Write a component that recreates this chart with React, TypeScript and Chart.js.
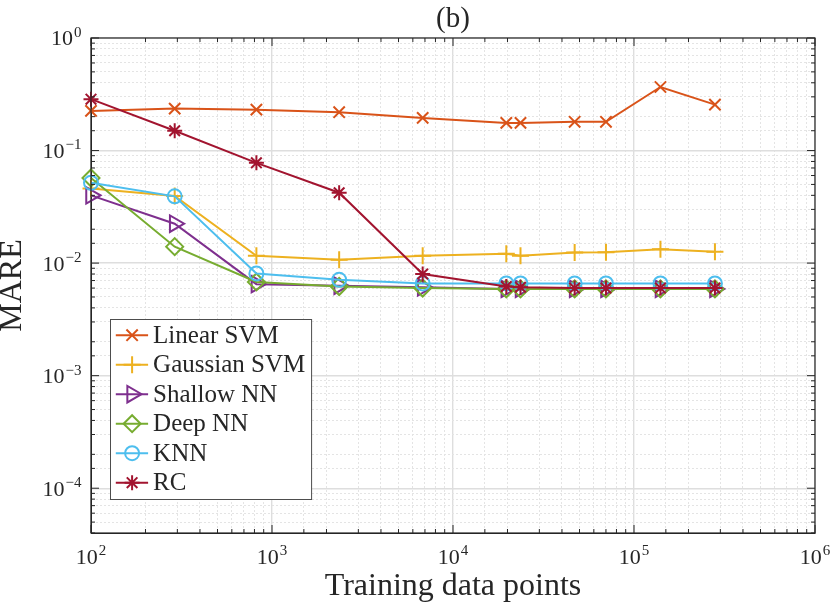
import { useEffect, useRef } from "react";
import { Chart, registerables, type ChartConfiguration, type Plugin } from "chart.js";
import { drawPoint } from "chart.js/helpers";

Chart.register(...registerables);

// shared x values (training data points)
const trainingPoints = [100, 290, 820, 2350, 6800, 19700, 23600, 47000, 70000, 140000, 280000];

const linearSvm = [0.225, 0.236, 0.231, 0.219, 0.195, 0.176, 0.176, 0.18, 0.18, 0.367, 0.256];
const gaussianSvm = [0.046, 0.0395, 0.0116, 0.0107, 0.0116, 0.0121, 0.0116, 0.0124, 0.0125, 0.0133, 0.0126];
const shallowNn = [0.04, 0.0224, 0.0065, 0.0063, 0.0061, 0.0059, 0.0059, 0.0059, 0.0059, 0.0059, 0.0059];
const deepNn = [0.057, 0.014, 0.0068, 0.0062, 0.006, 0.0059, 0.0059, 0.0059, 0.0059, 0.0059, 0.0059];
const knn = [0.0517, 0.0392, 0.0081, 0.0071, 0.0066, 0.0066, 0.0066, 0.0066, 0.0066, 0.0066, 0.0066];
const rc = [0.286, 0.15, 0.0778, 0.0422, 0.008, 0.0062, 0.0061, 0.006, 0.006, 0.006, 0.006];

const seriesLabels = ["Linear SVM", "Gaussian SVM", "Shallow NN", "Deep NN", "KNN", "RC"];
const seriesValues = [linearSvm, gaussianSvm, shallowNn, deepNn, knn, rc];

const xTickExponents = [2, 3, 4, 5, 6];
const yTickExponents = [-4, -3, -2, -1, 0];

const chartTitle = "(b)";
const xAxisTitle = "Training data points";
const yAxisTitle = "MARE";

const FONT = "'Liberation Serif', 'DejaVu Serif', serif";
const TEXT = "#262626";
const GRID_MAJOR = "#dedede";
const GRID_MINOR = "#e4e4e4";

const markers = [
  { color: "#D95319", pointStyle: "crossRot", radius: 8, rotation: 0 },
  { color: "#EDB120", pointStyle: "cross", radius: 8.5, rotation: 0 },
  { color: "#7E2F8E", pointStyle: "triangle", radius: 9.5, rotation: 90 },
  { color: "#77AC30", pointStyle: "rectRot", radius: 8.5, rotation: 0 },
  { color: "#4DBEEE", pointStyle: "circle", radius: 7, rotation: 0 },
  { color: "#A2142F", pointStyle: "star", radius: 7.5, rotation: 0 },
];

function isDecade(value?: number) {
  if (value === undefined) return false;
  const l = Math.log10(value);
  return Math.abs(l - Math.round(l)) < 1e-9;
}

function drawPower(
  ctx: CanvasRenderingContext2D,
  exp: number,
  x: number,
  baseline: number,
  align: "center" | "right",
) {
  const base = "10";
  const sup = exp < 0 ? `\u2212${-exp}` : `${exp}`;
  ctx.font = `22px ${FONT}`;
  const bw = ctx.measureText(base).width;
  ctx.font = `15px ${FONT}`;
  const sw = ctx.measureText(sup).width;
  const total = bw + sw + 1;
  const start = align === "center" ? x - total / 2 : x - total;
  ctx.textAlign = "left";
  ctx.textBaseline = "alphabetic";
  ctx.font = `22px ${FONT}`;
  ctx.fillText(base, start, baseline);
  ctx.font = `15px ${FONT}`;
  ctx.fillText(sup, start + bw + 1, baseline - 8.5);
}

const matlabAxes: Plugin<"line"> = {
  id: "matlabAxes",
  afterDatasetsDraw(chart) {
    const { ctx, chartArea: a } = chart;
    const xs = chart.scales.x;
    const ys = chart.scales.y;
    ctx.save();
    ctx.strokeStyle = TEXT;
    ctx.lineWidth = 1.2;
    ctx.strokeRect(a.left, a.top, a.right - a.left, a.bottom - a.top);

    ctx.lineWidth = 1;
    ctx.beginPath();
    for (const t of xs.ticks) {
      const px = xs.getPixelForValue(t.value);
      const len = isDecade(t.value) ? 8 : 4;
      ctx.moveTo(px, a.bottom);
      ctx.lineTo(px, a.bottom - len);
      ctx.moveTo(px, a.top);
      ctx.lineTo(px, a.top + len);
    }
    for (const t of ys.ticks) {
      const py = ys.getPixelForValue(t.value);
      const len = isDecade(t.value) ? 8 : 4;
      ctx.moveTo(a.left, py);
      ctx.lineTo(a.left + len, py);
      ctx.moveTo(a.right, py);
      ctx.lineTo(a.right - len, py);
    }
    ctx.stroke();

    ctx.fillStyle = TEXT;
    for (const e of xTickExponents) {
      drawPower(ctx, e, xs.getPixelForValue(10 ** e), a.bottom + 30.5, "center");
    }
    for (const e of yTickExponents) {
      drawPower(ctx, e, a.left - 9.5, ys.getPixelForValue(10 ** e) + 7.4, "right");
    }
    ctx.restore();
  },
  afterDraw(chart) {
    const { ctx, chartArea: a } = chart;
    ctx.save();

    // title
    ctx.fillStyle = TEXT;
    ctx.font = `29px ${FONT}`;
    ctx.textAlign = "center";
    ctx.textBaseline = "alphabetic";
    ctx.fillText(chartTitle, (a.left + a.right) / 2, 27);

    // legend box
    const left = a.left + 19.5;
    const top = a.top + 281.5;
    const rowH = 29.5;
    ctx.font = `25px ${FONT}`;
    const textW = Math.max(...seriesLabels.map((l) => ctx.measureText(l).width));
    const width = 42 + textW + 7;
    const height = rowH * seriesLabels.length + 3;
    ctx.fillStyle = "#ffffff";
    ctx.fillRect(left, top, width, height);
    ctx.strokeStyle = "#4d4d4d";
    ctx.lineWidth = 1;
    ctx.strokeRect(left, top, width, height);

    seriesLabels.forEach((label, i) => {
      const m = markers[i];
      const cy = top + 15.7 + i * rowH;
      ctx.strokeStyle = m.color;
      ctx.lineWidth = 2;
      ctx.beginPath();
      ctx.moveTo(left + 5.3, cy);
      ctx.lineTo(left + 37.6, cy);
      ctx.stroke();
      ctx.fillStyle = "rgba(0,0,0,0)";
      drawPoint(
        ctx,
        { pointStyle: m.pointStyle as any, radius: m.radius, rotation: m.rotation, borderWidth: 2 },
        left + 21.6,
        cy,
      );
      ctx.fillStyle = TEXT;
      ctx.font = `25px ${FONT}`;
      ctx.textAlign = "left";
      ctx.fillText(label, left + 42.6, cy + 7.5);
    });
    ctx.restore();
  },
};

export default function App() {
  const canvasRef = useRef<HTMLCanvasElement | null>(null);

  useEffect(() => {
    const canvas = canvasRef.current;
    if (!canvas) return;

    const gridColor = (c: any) => (c.tick && isDecade(c.tick.value) ? GRID_MAJOR : GRID_MINOR);
    const gridWidth = (c: any) => (c.tick && isDecade(c.tick.value) ? 1.4 : 1);
    const gridDash = (c: any) => (c.tick && !isDecade(c.tick.value) ? [2, 2] : []);

    const configuration: ChartConfiguration<"line"> = {
      type: "line",
      data: {
        datasets: seriesLabels.map((label, i) => ({
          label,
          data: trainingPoints.map((x, j) => ({ x, y: seriesValues[i][j] })),
          borderColor: markers[i].color,
          backgroundColor: markers[i].color,
          borderWidth: 2,
          pointStyle: markers[i].pointStyle as any,
          pointRadius: markers[i].radius,
          pointRotation: markers[i].rotation,
          pointBorderColor: markers[i].color,
          pointBackgroundColor: "rgba(0,0,0,0)",
          pointBorderWidth: 2,
          tension: 0,
          clip: false as any,
          order: seriesLabels.length - i,
        })),
      },
      options: {
        animation: false,
        responsive: false,
        layout: { padding: { top: 38, right: 15, left: 0, bottom: 0 } },
        plugins: {
          legend: { display: false },
          tooltip: { enabled: false },
        },
        scales: {
          x: {
            type: "logarithmic",
            min: 100,
            max: 1e6,
            afterFit: (s) => {
              s.height = 71;
            },
            ticks: { display: false, autoSkip: false },
            grid: { color: gridColor, lineWidth: gridWidth, drawTicks: false },
            border: { display: true, color: TEXT, dash: gridDash },
            title: {
              display: true,
              text: xAxisTitle,
              color: TEXT,
              font: { family: FONT, size: 32 },
              padding: { top: 0, bottom: -1.5 },
            },
          },
          y: {
            type: "logarithmic",
            min: 4e-5,
            max: 1,
            afterFit: (s) => {
              s.width = 91;
            },
            ticks: { display: false, autoSkip: false },
            grid: { color: gridColor, lineWidth: gridWidth, drawTicks: false },
            border: { display: true, color: TEXT, dash: gridDash },
            title: {
              display: true,
              text: yAxisTitle,
              color: TEXT,
              font: { family: FONT, size: 32 },
              padding: { top: -7, bottom: 0 },
            },
          },
        },
      },
      plugins: [matlabAxes],
    };

    const chart = new Chart(canvas, configuration);
    return () => {
      chart.destroy();
    };
  }, []);

  return (
    <div style={{ position: "absolute", left: 0, top: 0, width: 830, height: 604, background: "#fff" }}>
      <canvas ref={canvasRef} width={830} height={604} style={{ display: "block" }} />
    </div>
  );
}
